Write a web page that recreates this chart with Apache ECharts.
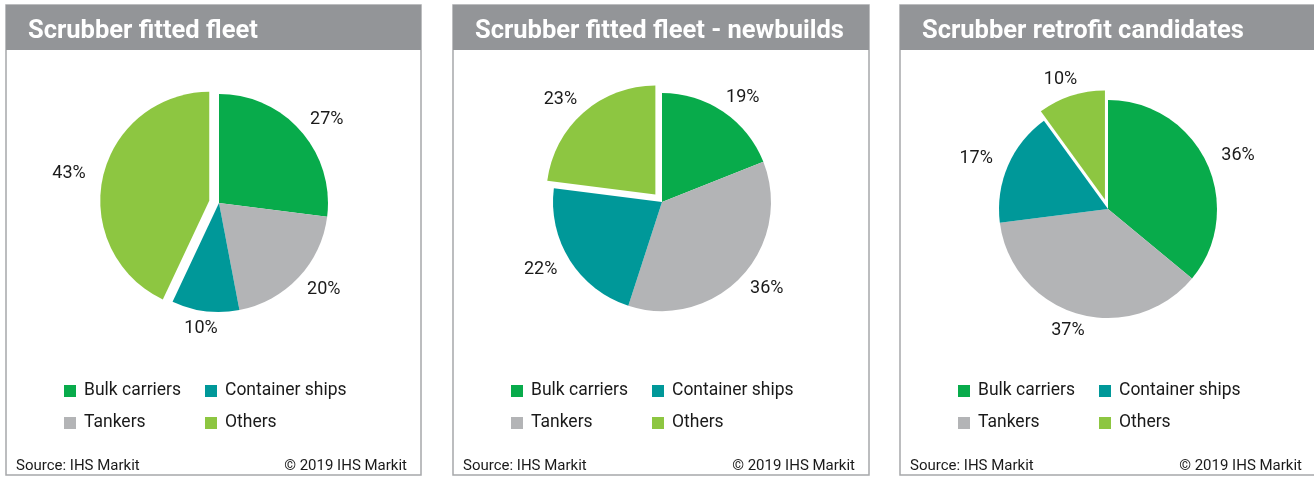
<!DOCTYPE html>
<html>
<head>
<meta charset="utf-8">
<script src="https://cdn.jsdelivr.net/npm/echarts@6/dist/echarts.min.js"></script>
<style>
html,body{margin:0;padding:0;background:#fff;}
#chart{width:1314px;height:477px;}
</style>
</head>
<body>
<div id="chart"></div>
<script>
// ---- data ----
const categories = ['Bulk carriers', 'Tankers', 'Container ships', 'Others'];
const fittedFleet = [27, 20, 10, 43];
const fittedNewbuilds = [19, 36, 22, 23];
const retrofitCandidates = [36, 37, 17, 10];
const panelTitles = ['Scrubber fitted fleet', 'Scrubber fitted fleet - newbuilds', 'Scrubber retrofit candidates'];
const legendCol1 = ['Bulk carriers', 'Tankers'];
const legendCol2 = ['Container ships', 'Others'];
const sourceText = 'Source: IHS Markit';
const copyrightText = '\u00A9 2019 IHS Markit';
const explodedCategory = 'Others';

// ---- style / layout ----
const colorMap = {
  'Bulk carriers': '#08AB4B',
  'Tankers': '#B3B4B6',
  'Container ships': '#009899',
  'Others': '#8DC641'
};
const FONT = 'Roboto';
const W = 1314;
const panels = [
  { left: 6, width: 415, center: [219, 203] },
  { left: 453, width: 416, center: [662, 202] },
  { left: 900, width: 416, center: [1108, 209] }
];
const panelTop = 5, panelBottom = 475, headerH = 45;
const R = 109, LABEL_R = 124, EXPLODE = 10;
const allValues = [fittedFleet, fittedNewbuilds, retrofitCandidates];

const chart = echarts.init(document.getElementById('chart'), null, { renderer: 'canvas' });

const graphic = [];
const titles = [];
const legends = [];
const series = [];

panels.forEach((p, i) => {
  graphic.push({
    type: 'rect', silent: true, z: 0,
    shape: { x: p.left, y: panelTop, width: p.width, height: panelBottom - panelTop },
    style: { fill: '#fff', stroke: '#a7a8aa', lineWidth: 1.5 }
  });
  graphic.push({
    type: 'rect', silent: true, z: 1,
    shape: { x: p.left, y: panelTop, width: p.width, height: headerH },
    style: { fill: '#939598' }
  });
  titles.push({
    text: panelTitles[i],
    left: p.left + 22, top: panelTop + 12, padding: 0,
    textStyle: { color: '#ffffff', fontFamily: FONT, fontWeight: 'bold', fontSize: 25.5, lineHeight: 30 }
  });
  titles.push({
    text: sourceText,
    left: p.left + 10, top: 457, padding: 0,
    textStyle: { color: '#1a1a1a', fontFamily: FONT, fontWeight: 'normal', fontSize: 15, lineHeight: 18 }
  });
  titles.push({
    text: copyrightText,
    right: W - (p.left + p.width - 14), top: 457, padding: 0,
    textStyle: { color: '#1a1a1a', fontFamily: FONT, fontWeight: 'normal', fontSize: 15, lineHeight: 18 }
  });
  [legendCol1, legendCol2].forEach((col, c) => {
    legends.push({
      orient: 'vertical',
      left: p.left + (c === 0 ? 58 : 199),
      top: 382,
      padding: 0,
      itemWidth: 12, itemHeight: 12, itemGap: 14,
      icon: 'rect',
      selectedMode: false,
      data: col,
      textStyle: { color: '#1a1a1a', fontFamily: FONT, fontSize: 17.5, lineHeight: 18, padding: [0, 0, 0, 3] }
    });
  });

  const data = categories.map((name, k) => ({
    name: name,
    value: allValues[i][k],
    selected: name === explodedCategory,
    itemStyle: { color: colorMap[name] }
  }));
  series.push({
    type: 'pie',
    center: p.center,
    radius: [0, R],
    startAngle: 90,
    clockwise: true,
    selectedMode: 'single',
    selectedOffset: EXPLODE,
    avoidLabelOverlap: false,
    label: { show: false },
    labelLine: { show: false },
    emphasis: { scale: false },
    itemStyle: { borderWidth: 0 },
    animation: false,
    data: data
  });
  // transparent label ring: labels sit just outside the pie, pushed out by half their box
  const cx = p.center[0], cy = p.center[1];
  series.push({
    type: 'pie',
    center: p.center,
    radius: [LABEL_R - 1, LABEL_R + 1],
    startAngle: 90,
    clockwise: true,
    selectedMode: 'single',
    selectedOffset: EXPLODE,
    avoidLabelOverlap: false,
    silent: true,
    legendHoverLink: false,
    label: {
      show: true, position: 'inside',
      formatter: '{c}%',
      color: '#1a1a1a', fontFamily: FONT, fontSize: 18
    },
    labelLine: { show: false },
    labelLayout: function (params) {
      const r = params.labelRect;
      const lx = r.x + r.width / 2, ly = r.y + r.height / 2;
      const vx = lx - cx, vy = ly - cy;
      const len = Math.sqrt(vx * vx + vy * vy) || 1;
      return { dx: vx / len * r.width / 2, dy: vy / len * (r.height * 0.3 - 6) };
    },
    emphasis: { disabled: true },
    itemStyle: { color: 'rgba(0,0,0,0)', borderWidth: 0 },
    animation: false,
    data: categories.map((name, k) => ({
      name: name,
      value: allValues[i][k],
      selected: name === explodedCategory
    }))
  });
});

chart.setOption({
  backgroundColor: '#ffffff',
  animation: false,
  graphic: graphic,
  title: titles,
  legend: legends,
  series: series
});
</script>
</body>
</html>
